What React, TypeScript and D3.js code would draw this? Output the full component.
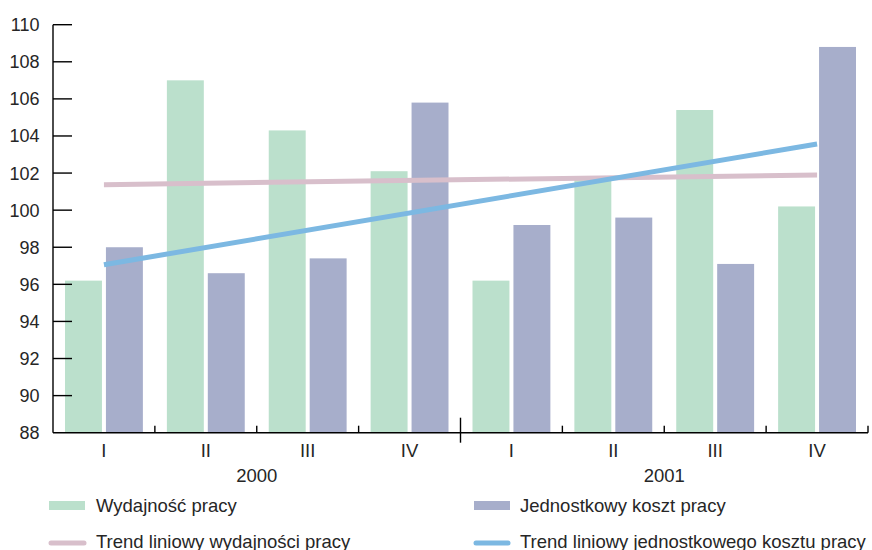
import React from "react";
import * as d3 from "d3";

// Quarterly indices (previous year = 100)
const years = ["2000", "2001"];
const quarters = ["I", "II", "III", "IV"];
const productivity = [96.2, 107.0, 104.3, 102.1, 96.2, 101.7, 105.4, 100.2];
const unitLabourCost = [98.0, 96.6, 97.4, 105.8, 99.2, 99.6, 97.1, 108.8];
const yTicks = [88, 90, 92, 94, 96, 98, 100, 102, 104, 106, 108, 110];

const seriesNames = ["Wydajność pracy", "Jednostkowy koszt pracy"];
const trendNames = ["Trend liniowy wydajności pracy", "Trend liniowy jednostkowego kosztu pracy"];

const GREEN = "#bbe0cc";
const PURPLE = "#a7aecb";
const PINK = "#d8bfcb";
const BLUE = "#7cb8e2";
const TEXT = "#262626";

const W = 872;
const H = 550;
const left = 53;
const right = 868;
const top = 24.7;
const bottom = 432.7;
const FONT = "'Liberation Sans', Arial, sans-serif";
const FS = 18.5;

// least-squares line over the period index
function linearFit(vals: number[]) {
  const xs = vals.map((_, i) => i);
  const mx = d3.mean(xs)!;
  const my = d3.mean(vals)!;
  let sxy = 0;
  let sxx = 0;
  xs.forEach((x, i) => {
    sxy += (x - mx) * (vals[i] - my);
    sxx += (x - mx) * (x - mx);
  });
  const b = sxy / sxx;
  const a = my - b * mx;
  return (x: number) => a + b * x;
}

export default function App() {
  const keys = years.flatMap((y) => quarters.map((q) => `${y}-${q}`));
  const x0 = d3.scaleBand<string>().domain(keys).range([left, right]).padding(0);
  const x1 = d3
    .scaleBand<string>()
    .domain(["p", "c"])
    .range([12, x0.bandwidth() - 12])
    .paddingInner(0.0976)
    .paddingOuter(0);
  const y = d3.scaleLinear().domain([88, 110]).range([bottom, top]);

  const centre = (i: number) => x0(keys[i])! + x0.bandwidth() / 2;
  const fitP = linearFit(productivity);
  const fitC = linearFit(unitLabourCost);
  const n = keys.length;

  const lineFor = (fit: (x: number) => number) =>
    d3
      .line<number>()
      .x((i) => centre(i))
      .y((i) => y(fit(i)))([0, n - 1])!;

  const yearWidth = x0.bandwidth() * quarters.length;

  return (
    <svg
      width={W}
      height={H}
      style={{ position: "fixed", left: 0, top: 0, display: "block", background: "#fff" }}
      fontFamily={FONT}
    >
      {/* bars */}
      {keys.map((k, i) => (
        <g key={k}>
          <rect
            x={x0(k)! + x1("p")!}
            y={y(productivity[i])}
            width={x1.bandwidth()}
            height={y(88) - y(productivity[i])}
            fill={GREEN}
          />
          <rect
            x={x0(k)! + x1("c")!}
            y={y(unitLabourCost[i])}
            width={x1.bandwidth()}
            height={y(88) - y(unitLabourCost[i])}
            fill={PURPLE}
          />
        </g>
      ))}

      {/* trend lines */}
      <path d={lineFor(fitP)} stroke={PINK} strokeWidth={5} fill="none" />
      <path d={lineFor(fitC)} stroke={BLUE} strokeWidth={5} fill="none" />

      {/* y axis */}
      <line x1={left} x2={left} y1={y(110)} y2={y(88)} stroke="#000" strokeWidth={1.4} />
      {yTicks.map((t) => (
        <g key={t}>
          {t !== 88 && (
            <line x1={left} x2={left + 19} y1={y(t)} y2={y(t)} stroke="#000" strokeWidth={1.4} />
          )}
          <text x={39.5} y={y(t)} dy="0.36em" textAnchor="end" fontSize={18} fill={TEXT}>
            {t}
          </text>
        </g>
      ))}

      {/* x axis */}
      <line x1={left} x2={right} y1={bottom} y2={bottom} stroke="#000" strokeWidth={1.4} />
      {keys.map((k, i) => {
        const xr = x0(k)! + x0.bandwidth();
        const isYearEnd = i === quarters.length - 1;
        return (
          <line
            key={k}
            x1={xr}
            x2={xr}
            y1={isYearEnd ? bottom - 15 : bottom - 7}
            y2={isYearEnd ? bottom + 10 : bottom}
            stroke="#000"
            strokeWidth={1.4}
          />
        );
      })}
      {keys.map((k, i) => (
        <text key={k} x={centre(i)} y={457} textAnchor="middle" fontSize={FS} fill={TEXT}>
          {quarters[i % quarters.length]}
        </text>
      ))}
      {years.map((yr, j) => (
        <text
          key={yr}
          x={left + yearWidth * j + yearWidth / 2}
          y={482}
          textAnchor="middle"
          fontSize={FS}
          fill={TEXT}
        >
          {yr}
        </text>
      ))}

      {/* legend */}
      <rect x={49} y={501} width={36} height={9} fill={GREEN} />
      <text x={96} y={512} fontSize={FS} fill={TEXT}>
        {seriesNames[0]}
      </text>
      <rect x={474} y={501} width={36} height={9} fill={PURPLE} />
      <text x={520} y={512} fontSize={FS} fill={TEXT}>
        {seriesNames[1]}
      </text>
      <line x1={51} x2={84} y1={543} y2={543} stroke={PINK} strokeWidth={5} strokeLinecap="round" />
      <text x={96} y={548} fontSize={FS} fill={TEXT}>
        {trendNames[0]}
      </text>
      <line x1={476} x2={508} y1={543} y2={543} stroke={BLUE} strokeWidth={5} strokeLinecap="round" />
      <text x={520} y={548} fontSize={FS} fill={TEXT}>
        {trendNames[1]}
      </text>
    </svg>
  );
}
